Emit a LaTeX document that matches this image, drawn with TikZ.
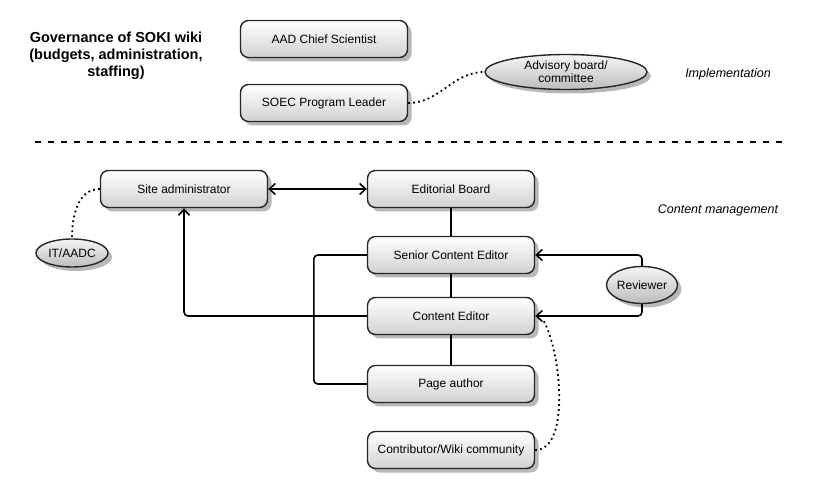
\documentclass[tikz,border=0pt]{standalone}
\usepackage{fontspec}
\setmainfont{Liberation Sans}
\usetikzlibrary{positioning,shapes.geometric,shadows,arrows.meta}

\begin{document}
\begin{tikzpicture}[x=1pt,y=-1pt,on grid,font=\fontsize{12}{14}\selectfont,
   >={Straight Barb[length=6pt,width=11pt]},
   shade/.style={drop shadow={shadow xshift=4pt,shadow yshift=-4pt,opacity=1,fill=black!28}},
   box/.style={draw=black!85,line width=1.4pt,rounded corners=8pt,top color=white,bottom color=black!18,
      shade,minimum width=167pt,minimum height=37pt},
   bubble/.style={ellipse,draw=black!85,line width=1.4pt,top color=black!4,bottom color=black!26,
      shade,inner sep=0pt,align=center},
   link/.style={line width=1.6pt,rounded corners=4pt},
   loose/.style={line width=1.8pt,dash pattern=on 1.8pt off 3.2pt},
   note/.style={font=\fontsize{12.5}{14}\selectfont\itshape},
   title/.style={font=\fontsize{14.5}{16.8}\selectfont\bfseries,align=center}]
   \useasboundingbox (0,0) rectangle (823,489);
   \node[title] (gov) at (116,56) {Governance of SOKI wiki\\(budgets, administration,\\staffing)};
   \node[box] (aad) at (324,39) {AAD Chief Scientist};
   \node[box] (soec) [below=64pt of aad] {SOEC Program Leader};
   \node[bubble,minimum width=162pt,minimum height=35pt,inner ysep=-1pt,font=\fontsize{12}{13}\selectfont]
      (adv) at (566,72) {Advisory board/\\committee};
   \node[note] (impl) at (728,74) {Implementation};
   \draw[line width=1.8pt,dash pattern=on 6pt off 7pt] (35,142) -- (785,142);
   \node[box] (site) at (184,189) {Site administrator};
   \node[bubble,minimum width=72pt,minimum height=28pt,inner xsep=-8pt] (it) at (72,253) {IT/AADC};
   \node[box] (board) at (451,189) {Editorial Board};
   \node[box] (senior) [below=66pt of board] {Senior Content Editor};
   \node[box] (editor) [below=61pt of senior] {Content Editor};
   \node[box] (author) [below=68pt of editor] {Page author};
   \node[box] (contrib) [below=66pt of author] {Contributor/Wiki community};
   \node[bubble,minimum width=71pt,minimum height=37pt,inner xsep=-1pt] (rev) at (642,285) {Reviewer};
   \node[note] (cm) at (718,210) {Content management};
   \path[<->,link] (site) edge (board);
   \draw[link] (board) -- (senior) -- (editor) -- (author);
   \draw[link] (senior.west) -- ++(-53,0) |- (author.west);
   \draw[link,->] (editor.west) -| (site.south);
   \draw[link,->] (rev.north) |- (senior.east);
   \draw[link,->] (rev.south) |- (editor.east);
   \draw[loose] (soec.east) to[out=0,in=180] (adv.west);
   \draw[loose] (site.west) to[out=180,in=90] (it.north);
   \draw[loose] (contrib.east) to[out=0,in=-60,looseness=0.7] ([xshift=8pt,yshift=-4pt]editor.east);
\end{tikzpicture}
\end{document}
